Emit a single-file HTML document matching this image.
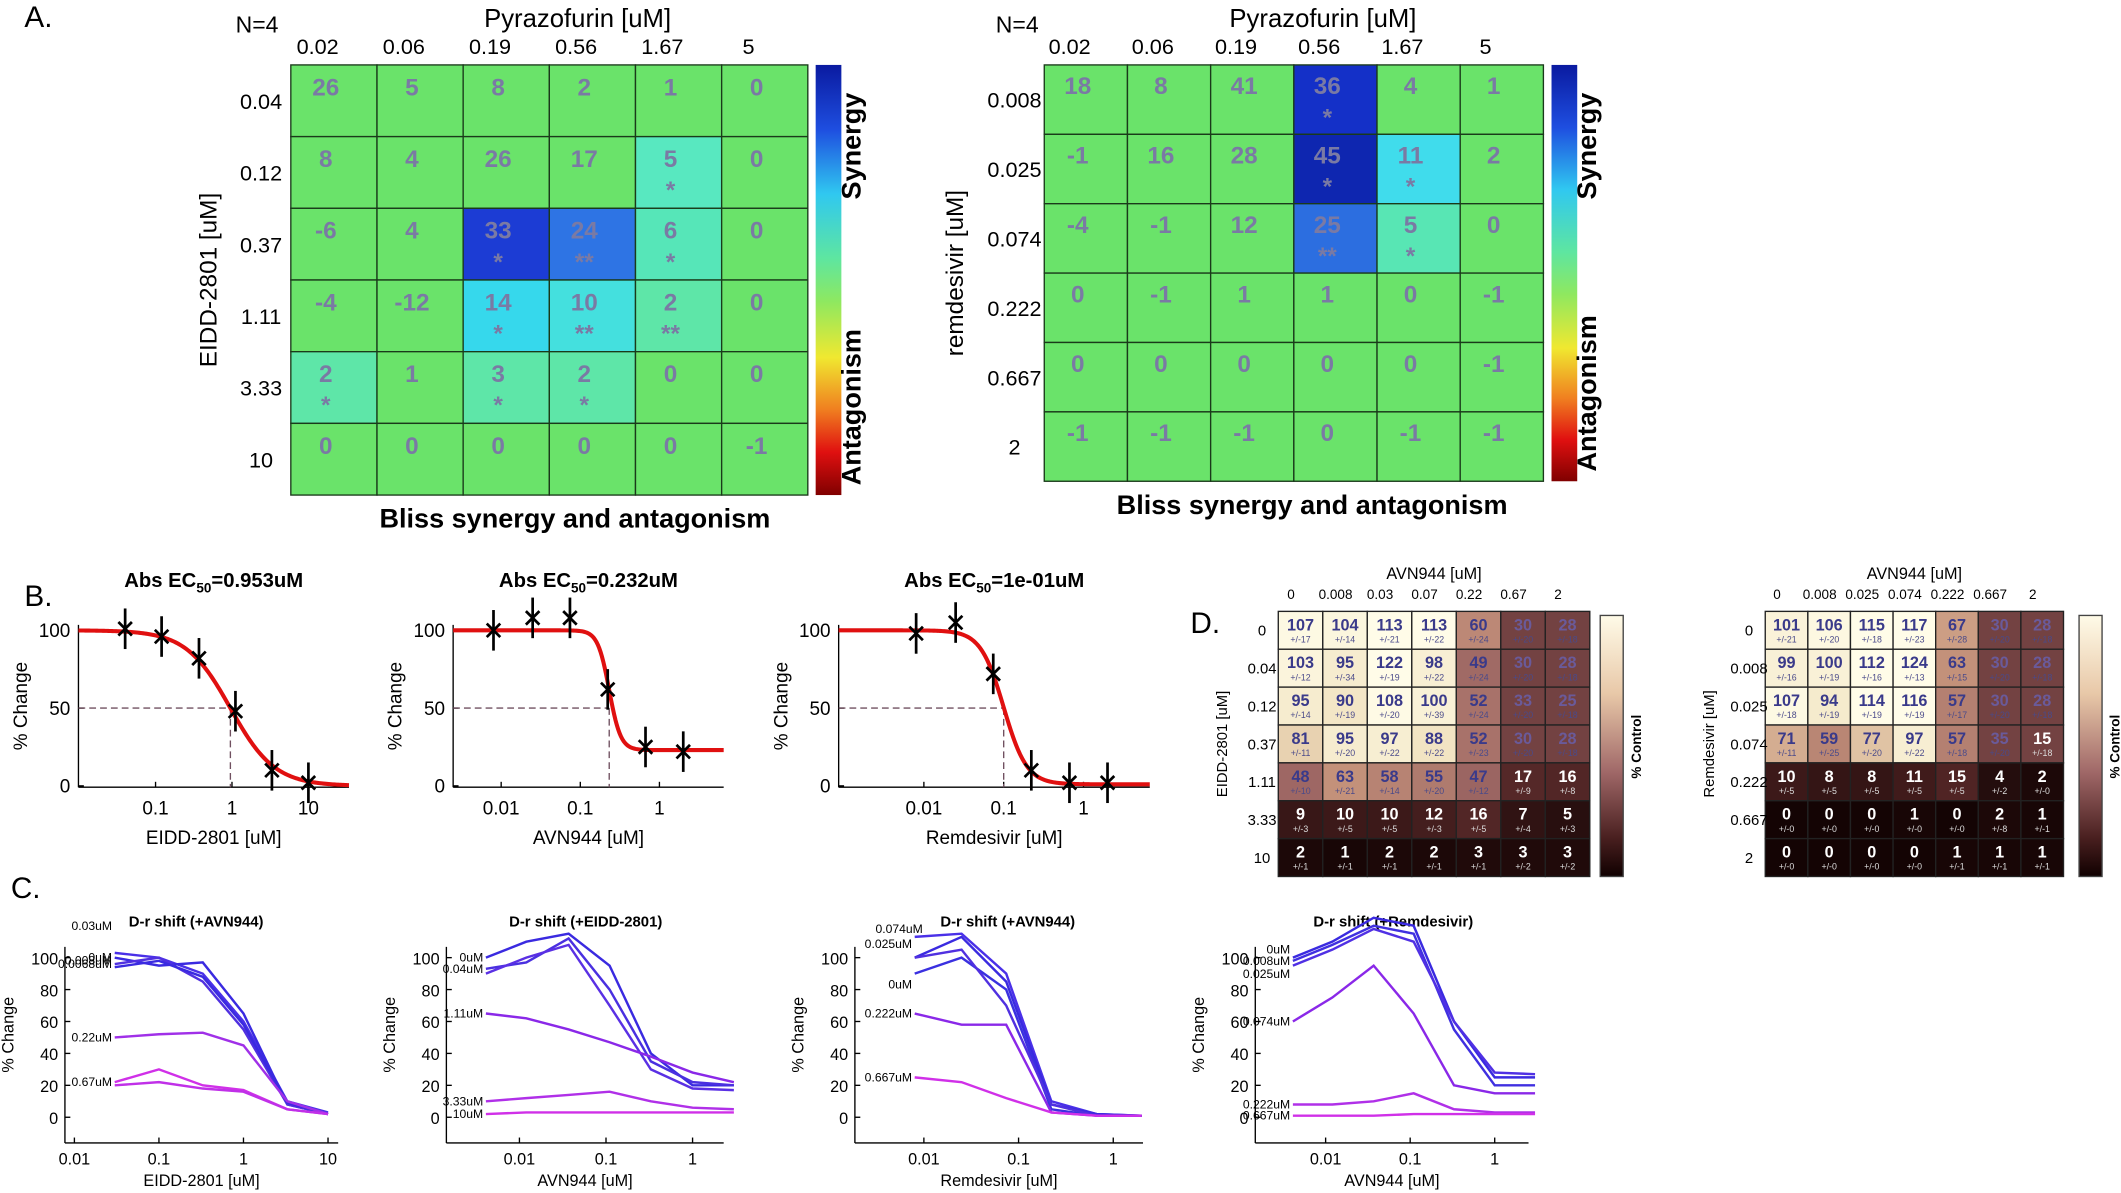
<!DOCTYPE html>
<html><head><meta charset="utf-8"><style>
html,body{margin:0;padding:0;background:#fff;}
svg{display:block;font-family:"Liberation Sans",sans-serif;}
</style></head><body>
<svg id="s" width="2121" height="1193" viewBox="0 0 1568 882" preserveAspectRatio="none" xmlns="http://www.w3.org/2000/svg">
<defs>
<linearGradient id="jet" x1="0" y1="0" x2="0" y2="1">
<stop offset="0" stop-color="#0a1aa0"/><stop offset="0.15" stop-color="#1e4ee0"/><stop offset="0.3" stop-color="#30c8f0"/><stop offset="0.45" stop-color="#5ee6a0"/><stop offset="0.55" stop-color="#8ee860"/><stop offset="0.68" stop-color="#f0e830"/><stop offset="0.8" stop-color="#f08020"/><stop offset="0.9" stop-color="#e01010"/><stop offset="1" stop-color="#800000"/>
</linearGradient>
<linearGradient id="pink" x1="0" y1="0" x2="0" y2="1">
<stop offset="0" stop-color="#fffbe8"/><stop offset="0.3" stop-color="#e8c8a8"/><stop offset="0.6" stop-color="#a06868"/><stop offset="0.85" stop-color="#4a2020"/><stop offset="1" stop-color="#100000"/>
</linearGradient>
</defs>
<g id="g"></g>
</svg>
<script>
const g=document.getElementById('g');let h='';
function T(x,y,t,o){o=o||{};h+=`<text x="${x}" y="${y}" font-size="${o.s||14}" fill="${o.c||'#000'}" text-anchor="${o.a||'middle'}" font-weight="${o.w||'normal'}"${o.r?` transform="rotate(${o.r} ${x} ${y})"`:''}>${t}</text>`;}
function L(x1,y1,x2,y2,c,w,d){h+=`<line x1="${x1}" y1="${y1}" x2="${x2}" y2="${y2}" stroke="${c||'#000'}" stroke-width="${w||1}"${d?` stroke-dasharray="${d}"`:''}/>`;}
function R(x,y,w,hh,f,s){h+=`<rect x="${x}" y="${y}" width="${w}" height="${hh}" fill="${f}"${s?` stroke="${s}" stroke-width="1"`:''}/>`;}
function P(pts,c,w){h+=`<polyline points="${pts.map(p=>p.join(',')).join(' ')}" fill="none" stroke="${c}" stroke-width="${w||1.5}"/>`;}
T(18,20,'A.',{s:22,a:'start'});T(18,448,'B.',{s:22,a:'start'});T(8,664,'C.',{s:22,a:'start'});T(880,468,'D.',{s:22,a:'start'});
function heat(x0,y0,cw,ch,vals,cols,rowsL,colsL,ylab,cb,yo){
 for(let r=0;r<6;r++)for(let c=0;c<6;c++){let v=vals[r][c];R(x0+c*cw,y0+r*ch,cw,ch,cols[r][c]||'#6ae36a','#1a3a1a');
 T(x0+c*cw+cw/2-6,y0+r*ch+ch/2-4,v[0],{s:18,w:'bold',c:'#7a7aa4'});if(v[1])T(x0+c*cw+cw/2-6,y0+r*ch+ch/2+19,v[1],{s:18,w:'bold',c:'#7a7aa4'});}
 colsL.forEach((t,i)=>T(x0+i*cw+cw/2-12,y0-8,t,{s:16}));
 rowsL.forEach((t,i)=>T(x0-22,y0+i*ch+ch/2+6,t,{s:16,a:'middle'}));
 T(x0-yo,y0+3*ch,ylab,{s:18,r:-90});
 R(cb,y0,19,6*ch,'url(#jet)');
 T(cb+33,y0+60,'Synergy',{s:20,w:'bold',r:-90});T(cb+33,y0+6*ch-65,'Antagonism',{s:20,w:'bold',r:-90});
}
const G='#6ae36a';
heat(215,48,63.7,53,[[['26'],['5'],['8'],['2'],['1'],['0']],[['8'],['4'],['26'],['17'],['5','*'],['0']],[['-6'],['4'],['33','*'],['24','**'],['6','*'],['0']],[['-4'],['-12'],['14','*'],['10','**'],['2','**'],['0']],[['2','*'],['1'],['3','*'],['2','*'],['0'],['0']],[['0'],['0'],['0'],['0'],['0'],['-1']]],
[[],[G,G,G,G,'#58e8c0'],[G,G,'#1c3cd4','#2e74e4','#56e6b8'],[G,G,'#36d8ec','#44e0de','#5ee6a8'],['#5ee6a8',G,'#5ee6a8','#5ee6a8'],[]],
['0.04','0.12','0.37','1.11','3.33','10'],['0.02','0.06','0.19','0.56','1.67','5'],'EIDD-2801 [uM]',603,55);
T(190,24,'N=4',{s:17});T(427,20,'Pyrazofurin [uM]',{s:19});T(425,390,'Bliss synergy and antagonism',{s:20,w:'bold'});
heat(772,48,61.5,51.3,[[['18'],['8'],['41'],['36','*'],['4'],['1']],[['-1'],['16'],['28'],['45','*'],['11','*'],['2']],[['-4'],['-1'],['12'],['25','**'],['5','*'],['0']],[['0'],['-1'],['1'],['1'],['0'],['-1']],[['0'],['0'],['0'],['0'],['0'],['-1']],[['-1'],['-1'],['-1'],['0'],['-1'],['-1']]],
[[G,G,G,'#1430c8'],[G,G,G,'#0e26b0','#40dcec'],[G,G,G,'#2c6ee0','#58e6b4'],[],[],[]],
['0.008','0.025','0.074','0.222','0.667','2'],['0.02','0.06','0.19','0.56','1.67','5'],'remdesivir [uM]',1147,60);
T(752,24,'N=4',{s:17});T(978,20,'Pyrazofurin [uM]',{s:19});T(970,380,'Bliss synergy and antagonism',{s:20,w:'bold'});
function bplot(x0,x1,d01,ppd,ticks,xlab,title,pts,ec,bot,hill){
 const X=v=>d01+Math.log10(v/0.1)*ppd,Y=v=>581-v*1.15;
 L(x0,462,x0,582);L(x0,582,x1,582);
 [0,50,100].forEach(v=>{L(x0,Y(v),x0+4,Y(v));T(x0-6,Y(v)+5,v,{s:14,a:'end'});});
 ticks.forEach(t=>{L(X(t[0]),582,X(t[0]),578);T(X(t[0]),602,t[1],{s:14});});
 T(x0+(x1-x0)/2,624,xlab,{s:14});T(x0-38,522,'% Change',{s:14,r:-90});
 h+=`<text x="${(x0+x1)/2}" y="434" font-size="15" font-weight="bold" text-anchor="middle">${title[0]}<tspan font-size="10" dy="4">50</tspan><tspan dy="-4">${title[1]}</tspan></text>`;
 L(x0,Y(50),X(ec),Y(50),'#705060',1,'5,3');L(X(ec),Y(50),X(ec),582,'#705060',1,'5,3');
 let c=[];for(let px=x0;px<=x1;px+=1){let v=Math.pow(10,(px-d01)/ppd)*0.1;c.push([px,Y(bot+(100-bot)/(1+Math.pow(v/ec,hill)))]);}
 P(c,'#e01010',3);
 pts.forEach(p=>{let x=X(p[0]),y=Y(p[1]);L(x-5,y-5,x+5,y+5,'#000',2);L(x-5,y+5,x+5,y-5,'#000',2);L(x,y-15,x,y+15,'#000',2);});
}
bplot(58,258,115,56.5,[[0.1,'0.1'],[1,'1'],[10,'10']],'EIDD-2801 [uM]',['Abs EC','=0.953uM'],[[0.04,101],[0.12,96],[0.37,82],[1.11,48],[3.33,10],[10,2]],0.953,0,1.5);
bplot(335,535,429,58.5,[[0.01,'0.01'],[0.1,'0.1'],[1,'1']],'AVN944 [uM]',['Abs EC','=0.232uM'],[[0.008,100],[0.025,108],[0.074,108],[0.222,62],[0.667,25],[2,22]],0.232,23,6);
bplot(620,850,742,59,[[0.01,'0.01'],[0.1,'0.1'],[1,'1']],'Remdesivir [uM]',['Abs EC','=1e-01uM'],[[0.008,98],[0.025,105],[0.074,72],[0.222,10],[0.667,2],[2,2]],0.1,1,3);
function cplot(x0,x1,d01,ppd,ticks,xlab,title,tx,series){
 const X=v=>d01+Math.log10(v/0.01)*ppd,Y=v=>826-v*1.18;
 L(x0,700,x0,845);L(x0,845,x1,845);
 [0,20,40,60,80,100].forEach(v=>{L(x0,Y(v),x0+4,Y(v));T(x0-5,Y(v)+5,v,{s:12,a:'end'});});
 ticks.forEach(t=>{L(X(t[0]),845,X(t[0]),841);T(X(t[0]),861,t[1],{s:12});});
 T((x0+x1)/2,877,xlab,{s:12});T(x0-38,765,'% Change',{s:12,r:-90});T(tx,685,title,{s:11,w:'bold'});
 series.forEach(s=>{P(s.p.map(p=>[X(p[0]),Y(p[1])]),s.c,1.8);if(s.l)T(X(s.p[0][0])-2+(s.lx||0),Y(s.p[0][1])+3+(s.ly||0),s.l,{s:9,a:'end'});});
}
const xs1=[0.03,0.1,0.33,1,3.3,10],cB='#3a2ae0',cP='#8a28e8',cM='#d030e8';
cplot(48,250,55,62.5,[[0.01,'0.01'],[0.1,'0.1'],[1,'1'],[10,'10']],'EIDD-2801 [uM]','D-r shift (+AVN944)',145,[
{p:[103,100,90,60,10,3],c:'#4a30e8',l:'0.03uM',ly:-20},{p:[100,95,97,65,8,2],c:cB,l:'0uM'},{p:[96,100,85,55,8,2],c:'#5030e0',l:'0.0068uM'},{p:[94,98,88,58,9,2],c:cB,l:'0.008uM',ly:-5},
{p:[50,52,53,45,10,2],c:'#a030e8',l:'0.22uM'},{p:[22,30,20,17,5,2],c:cM,l:'0.67uM'},{p:[20,22,18,16,5,2],c:'#c030e8'}].map(s=>({p:s.p.map((v,i)=>[xs1[i],v]),c:s.c,l:s.l,ly:s.ly})));
const xs2=[0.0041,0.012,0.037,0.11,0.33,1,3];
cplot(330,535,384,64,[[0.01,'0.01'],[0.1,'0.1'],[1,'1']],'AVN944 [uM]','D-r shift (+EIDD-2801)',433,[
{p:[100,110,115,95,40,20,20],c:cB,l:'0uM'},{p:[93,97,112,80,35,22,20],c:'#4a30e0',l:'0.04uM'},{p:[90,100,108,70,30,18,17],c:'#5a30e4'},
{p:[65,62,55,47,38,28,22],c:cP,l:'1.11uM'},{p:[10,12,14,16,10,6,5],c:'#b030e8',l:'3.33uM'},{p:[2,3,3,3,3,3,3],c:cM,l:'10uM'}].map(s=>({p:s.p.map((v,i)=>[xs2[i],v]),c:s.c,l:s.l})));
const xs3=[0.008,0.025,0.074,0.222,0.667,2];
cplot(632,845,683,70,[[0.01,'0.01'],[0.1,'0.1'],[1,'1']],'Remdesivir [uM]','D-r shift (+AVN944)',745,[
{p:[113,115,90,10,2,1],c:'#4a30e8',l:'0.074uM',ly:-6,lx:8},{p:[100,113,85,8,2,1],c:cB,l:'0.025uM',ly:-10},{p:[90,100,80,5,1,1],c:'#3a30e0',l:'0uM',ly:8},{p:[100,105,70,8,1,1],c:'#5030e0'},
{p:[65,58,58,3,1,1],c:cP,l:'0.222uM'},{p:[25,22,12,3,1,1],c:cM,l:'0.667uM'}].map(s=>({p:s.p.map((v,i)=>[xs3[i],v]),c:s.c,l:s.l,ly:s.ly,lx:s.lx})));
cplot(928,1130,980,62.5,[[0.01,'0.01'],[0.1,'0.1'],[1,'1']],'AVN944 [uM]','D-r shift (+Remdesivir)',1030,[
{p:[100,110,125,120,60,25,25],c:cB,l:'0uM',ly:-6},{p:[98,108,120,115,55,20,20],c:'#4030e0',l:'0.008uM'},{p:[95,105,118,110,60,28,27],c:'#5030e4',l:'0.025uM',ly:6},
{p:[60,75,95,65,20,15,15],c:cP,l:'0.074uM'},{p:[8,8,10,15,5,3,3],c:'#b030e8',l:'0.222uM'},{p:[1,1,1,2,2,2,2],c:cM,l:'0.667uM'}].map(s=>({p:s.p.map((v,i)=>[xs2[i],v]),c:s.c,l:s.l,ly:s.ly})));
function pc(v){const st=[[0,[20,4,4]],[15,[80,36,36]],[45,[150,95,95]],[65,[200,150,125]],[85,[240,225,190]],[110,[255,252,232]]];
 if(v>=110)return 'rgb(255,252,232)';for(let i=0;i<st.length-1;i++)if(v<=st[i+1][0]){let t=(v-st[i][0])/(st[i+1][0]-st[i][0]);let c=st[i][1].map((a,k)=>Math.round(a+(st[i+1][1][k]-a)*t));return `rgb(${c})`;}}
function dheat(x0,y0,cw,ch,vals,sd,rows,cols,ylab,cb){
 for(let r=0;r<7;r++)for(let c=0;c<7;c++){let v=vals[r][c],hid=(c>=5&&r<4);R(x0+c*cw,y0+r*ch,cw,ch,pc(hid?30:v),'#222');
 let tc=v<20?'#fff':(hid?'#6a5a9a':'#3a3a8a');T(x0+c*cw+cw/2,y0+r*ch+14,v,{s:12,w:'bold',c:tc});T(x0+c*cw+cw/2,y0+r*ch+23,'+/-'+sd[r][c],{s:6.5,c:v<20?'#ddd':'#4a4a8a'});}
 cols.forEach((t,i)=>T(x0+i*cw+cw/2-7,y0-9,t,{s:10}));rows.forEach((t,i)=>T(x0-12,y0+i*ch+ch/2+4,t,{s:11}));
 T(x0+3.5*cw,y0-24,'AVN944 [uM]',{s:12});T(x0-38,y0+3.5*ch,ylab,{s:11,r:-90});
 R(cb,y0+3,17,193,'url(#pink)','#444');T(cb+30,y0+100,'% Control',{s:10,w:'bold',r:-90});
}
const sdL=[[17,14,21,22,24,20,18],[12,34,19,22,24,20,18],[14,19,20,39,24,20,18],[11,20,22,22,23,20,18],[10,21,14,20,12,9,8],[3,5,5,3,5,4,3],[1,1,1,1,1,2,2]];
dheat(945,452,32.9,28,[[107,104,113,113,60,30,28],[103,95,122,98,49,30,28],[95,90,108,100,52,33,25],[81,95,97,88,52,30,28],[48,63,58,55,47,17,16],[9,10,10,12,16,7,5],[2,1,2,2,3,3,3]],sdL,['0','0.04','0.12','0.37','1.11','3.33','10'],['0','0.008','0.03','0.07','0.22','0.67','2'],'EIDD-2801 [uM]',1183);
const sdR=[[21,20,18,23,28,20,18],[16,19,16,13,15,20,18],[18,19,19,19,17,20,18],[11,25,20,22,18,20,18],[5,5,5,5,5,2,0],[0,0,0,0,0,8,1],[0,0,0,0,1,1,1]];
dheat(1305,452,31.5,28,[[101,106,115,117,67,30,28],[99,100,112,124,63,30,28],[107,94,114,116,57,30,28],[71,59,77,97,57,35,15],[10,8,8,11,15,4,2],[0,0,0,1,0,2,1],[0,0,0,0,1,1,1]],sdR,['0','0.008','0.025','0.074','0.222','0.667','2'],['0','0.008','0.025','0.074','0.222','0.667','2'],'Remdesivir [uM]',1537);
g.innerHTML=h;
</script>
</body></html>
